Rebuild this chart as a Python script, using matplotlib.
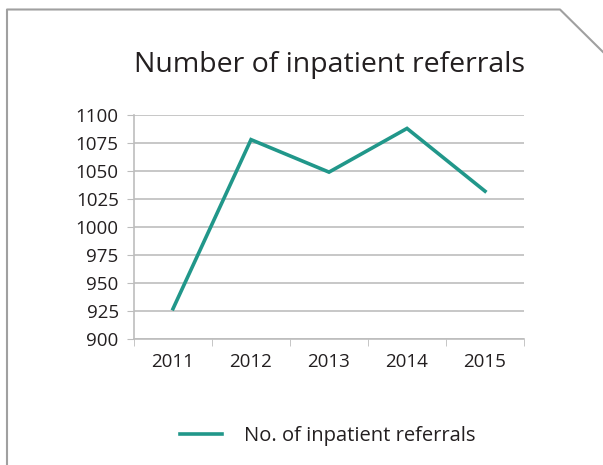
import matplotlib
matplotlib.use("Agg")
from matplotlib import pyplot as plt
from matplotlib.lines import Line2D
import numpy as np

# data
years = ["2011", "2012", "2013", "2014", "2015"]
referrals = [927, 1078, 1049, 1088, 1032]
y_ticks = [900, 925, 950, 975, 1000, 1025, 1050, 1075, 1100]

LINE_COL = "#21978a"
GRID_COL = "#bdbdbd"
TEXT_COL = "#231f20"
FRAME_COL = "#a0a0a0"

plt.rcParams['font.family'] = ['Open Sans', 'DejaVu Sans']

W, H = 603, 465
fig = plt.figure(figsize=(W / 100, H / 100), dpi=100)

# frame with cut corner, in pixel coords
def px(x, y):
    return x / W, 1 - y / H

frame_pts = [px(7, 470), px(7, 9.5), px(560, 9.5), px(603, 52)]
fig.add_artist(Line2D([p[0] for p in frame_pts], [p[1] for p in frame_pts],
                      color=FRAME_COL, lw=1.5, transform=fig.transFigure))

# axes: left 134, right 524, top 115, bottom 339
ax = fig.add_axes([134 / W, 1 - 339 / H, (524 - 134) / W, (339 - 115) / H])
x = np.arange(len(years))
ax.plot(x, referrals, color=LINE_COL, lw=2.6, solid_joinstyle='miter',
        label="No. of inpatient referrals")
ax.set_xlim(-0.5, len(years) - 0.5)
ax.set_ylim(900, 1100)
ax.set_yticks(y_ticks)
ax.set_yticklabels([str(v) for v in y_ticks], fontsize=13.5, color=TEXT_COL)
ax.set_xticks(x)
ax.set_xticklabels(years, fontsize=13.5, color=TEXT_COL)
ax.tick_params(axis='x', length=0, pad=10)
ax.tick_params(axis='y', length=5, color=GRID_COL, pad=6)
# category boundary ticks
ax.set_xticks(np.arange(len(years) + 1) - 0.5, minor=True)
ax.tick_params(axis='x', which='minor', length=5, color=GRID_COL)
ax.grid(axis='y', color=GRID_COL, lw=1.2)
ax.set_axisbelow(True)
for s in ['top', 'right']:
    ax.spines[s].set_visible(False)
ax.spines['left'].set_color(GRID_COL)
ax.spines['bottom'].set_color(GRID_COL)
ax.spines['left'].set_linewidth(1.2)
ax.spines['bottom'].set_linewidth(1.2)

fig.text(330 / W, 1 - 65 / H, "Number of inpatient referrals", ha='center', va='center',
         fontsize=20.5, color=TEXT_COL)

leg = fig.legend(loc='center', bbox_to_anchor=(328 / W, 1 - 436 / H), frameon=False,
                 fontsize=14.5, handlelength=2.1, handletextpad=1.1, labelcolor=TEXT_COL)

fig.savefig("out.png", dpi=100, facecolor='white')
